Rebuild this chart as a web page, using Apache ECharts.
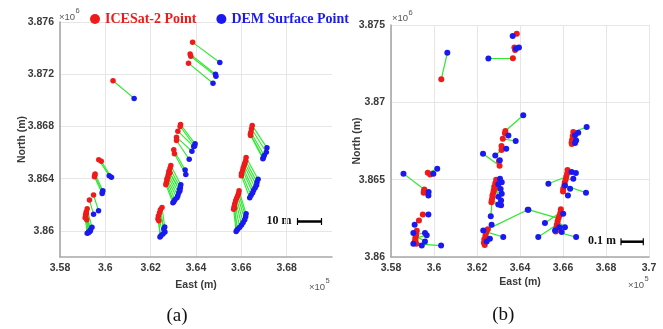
<!DOCTYPE html>
<html><head><meta charset="utf-8">
<script src="https://cdn.jsdelivr.net/npm/echarts@6/dist/echarts.min.js"></script>
<style>html,body{margin:0;padding:0;background:#fff}#c{width:663px;height:329px}</style>
</head><body><div id="c"></div>
<script>
// ICESat-2 point positions (East x1e5 m, North x1e6 m)
const icesatEast = [3.6034,3.6385,3.6374,3.6377,3.6367,3.6332,3.6330,3.6320,3.6314,3.6314,3.6302,3.6305,
  3.6289,3.6285,3.6280,3.6278,3.6276,3.6272,3.6272,3.6269,3.6267,3.6285,
  3.6250,3.6243,3.6239,3.6234,3.6232,3.6236,
  3.5971,3.5982,3.5955,3.5952,3.5953,3.5948,3.5930,3.5920,3.5916,3.5913,3.5911,3.5918,3.5914,3.5916,
  3.6648,3.6645,3.6642,3.6641,3.6640,3.6621,3.6619,3.6615,3.6612,3.6608,3.6606,3.6601,3.6600,
  3.6590,3.6588,3.6584,3.6579,3.6575,3.6571,3.6568,3.6566,3.6570];
const icesatNorth = [3.8715,3.87444,3.87354,3.87338,3.87285,3.86815,3.86800,3.86764,3.86718,3.86692,3.86621,3.86590,
  3.86500,3.86477,3.86454,3.86431,3.86415,3.86400,3.86385,3.86369,3.86354,3.86446,
  3.86180,3.86162,3.86138,3.86115,3.86092,3.86077,
  3.86544,3.86533,3.86436,3.86415,3.86425,3.86275,3.86236,3.86169,3.86146,3.86123,3.86100,3.86085,3.86110,3.86135,
  3.86808,3.86782,3.86756,3.86731,3.86740,3.86562,3.86538,3.86519,3.86500,3.86481,3.86462,3.86442,3.86423,
  3.86308,3.86288,3.86269,3.86250,3.86231,3.86208,3.86185,3.86165,3.86175];
// DEM surface points, panel (a)
const demEastA = [3.6127,3.6505,3.6486,3.6488,3.6475,3.6396,3.6394,3.6390,3.6382,3.6370,3.6352,3.6355,
  3.6333,3.6331,3.6329,3.6324,3.6320,3.6316,3.6307,3.6302,3.6298,3.6327,
  3.6262,3.6258,3.6263,3.6254,3.6245,3.6241,
  3.6017,3.6027,3.5989,3.5986,3.5987,3.5970,3.5948,3.5941,3.5935,3.5927,3.5920,3.5931,3.5925,3.5933,
  3.6713,3.6710,3.6701,3.6695,3.6697,3.6674,3.6669,3.6667,3.6661,3.6654,3.6650,3.6643,3.6637,
  3.6621,3.6619,3.6615,3.6608,3.6601,3.6593,3.6584,3.6577,3.6580];
const demNorthA = [3.87015,3.8729,3.8720,3.87185,3.87131,3.86667,3.86650,3.86646,3.86610,3.86548,3.86467,3.86431,
  3.86354,3.86331,3.86308,3.86292,3.86269,3.86254,3.86238,3.86223,3.86215,3.86315,
  3.86030,3.86015,3.85992,3.85977,3.85962,3.85954,
  3.86423,3.86410,3.86308,3.86287,3.86297,3.86154,3.86128,3.86027,3.86008,3.85992,3.85981,3.85996,3.85985,3.86000,
  3.86636,3.86602,3.86577,3.86552,3.86560,3.86396,3.86373,3.86350,3.86331,3.86312,3.86292,3.86273,3.86254,
  3.86131,3.86108,3.86085,3.86065,3.86046,3.86027,3.86012,3.85996,3.86005];
// DEM surface points, panel (b)
const demEastB = [3.6062,3.6366,3.6381,3.6395,3.6253,3.6415,3.6346,3.6380,3.6336,3.6285,3.6306,3.6228,
  3.6307,3.6315,3.6299,3.6315,3.6310,3.6312,3.6264,3.6312,3.6299,3.6300,
  3.6436,3.6322,3.6260,3.6229,3.6245,3.6268,
  3.6015,3.5997,3.5858,3.5975,3.5974,3.5974,3.5910,3.5904,3.5958,3.5966,3.5904,3.6033,3.5943,3.5958,
  3.6710,3.6671,3.6656,3.6661,3.6656,3.6660,3.6640,3.6532,3.6648,3.6633,3.6707,3.6609,3.6623,
  3.6601,3.6516,3.6583,3.6439,3.6609,3.6485,3.6594,3.6661,3.6563];
const demNorthB = [3.8732,3.87429,3.87347,3.87354,3.87283,3.86916,3.86786,3.86750,3.86700,3.86657,3.86625,3.86668,
  3.86506,3.86484,3.86470,3.86409,3.86440,3.86366,3.86263,3.86334,3.86339,3.86390,
  3.86306,3.86129,3.86118,3.86172,3.86100,3.86209,
  3.86571,3.86539,3.86539,3.86420,3.86398,3.86274,3.86209,3.86155,3.86155,3.86140,3.86086,3.86074,3.86075,3.86100,
  3.86840,3.86804,3.86787,3.86754,3.86737,3.86543,3.86549,3.86474,3.86506,3.86442,3.86416,3.86463,3.86398,
  3.86280,3.86220,3.86193,3.86306,3.86193,3.86129,3.86161,3.86129,3.86172];
// tick values
const eastTicks = [3.58,3.6,3.62,3.64,3.66,3.68,3.7];
const northTicksA = [3.86,3.864,3.868,3.872,3.876];
const northTicksB = [3.86,3.865,3.87,3.875];

const chart = echarts.init(document.getElementById('c'), null, {renderer:'canvas'});
const pts = (xs, ys) => xs.map((x,i)=>[x, ys[i]]);
const segs = (x1,y1,x2,y2) => x1.map((x,i)=>({coords:[[x,y1[i]],[x2[i],y2[i]]]}));
const fmt = v => String(parseFloat(Number(v).toFixed(4)));
const RED = '#f01a1a', BLUE = '#1a1af0', GREEN = '#2ee82e';
const labelStyle = {color:'#3a3a3a', fontSize:10.5, fontWeight:'bold', fontFamily:'Liberation Sans, Arial'};
const nameStyle = {color:'#3a3a3a', fontSize:10.5, fontWeight:'bold', fontFamily:'Liberation Sans, Arial'};
const axisLine = {show:true, onZero:false, lineStyle:{color:'#a8a8a8', width:1.6}};
const splitLine = {show:true, lineStyle:{color:'#e6e6e6', width:1}};

function xAxis(grid, gap, showMax){
  return {gridIndex:grid, type:'value', min:eastTicks[0], max:eastTicks[eastTicks.length-1], interval:0.02,
    axisLine, axisTick:{show:false}, splitLine:Object.assign({}, splitLine, {showMaxLine:showMax}),
    axisLabel:Object.assign({}, labelStyle, {margin:6, formatter:fmt, showMaxLabel:showMax}),
    name:'East (m)', nameLocation:'middle', nameGap:gap, nameMoveOverlap:false, nameTextStyle:nameStyle};
}

const option = {
  animation:false,
  backgroundColor:'#fff',
  legend:{left:85, top:7, itemWidth:10, itemHeight:10, itemGap:20, icon:'circle',
    data:[{name:'ICESat-2 Point', textStyle:{color:RED}}, {name:'DEM Surface Point', textStyle:{color:BLUE}}],
    textStyle:{fontFamily:'Liberation Serif, Times New Roman', fontWeight:'bold', fontSize:14, padding:[0,0,0,0]}},
  grid:[{left:60, top:22, width:272, height:235}, {left:391, top:25, width:258, height:232}],
  xAxis:[xAxis(0, 23, false), xAxis(1, 20, true)],
  yAxis:[
    {gridIndex:0, type:'value', min:3.858, max:northTicksA[northTicksA.length-1],
      axisLine, axisTick:{show:false, customValues:northTicksA}, splitLine,
      axisLabel:Object.assign({}, labelStyle, {margin:6, formatter:fmt, customValues:northTicksA}),
      name:'North (m)', nameLocation:'middle', nameGap:32, nameMoveOverlap:false, nameTextStyle:nameStyle},
    {gridIndex:1, type:'value', min:northTicksB[0], max:northTicksB[northTicksB.length-1], interval:0.005,
      axisLine, axisTick:{show:false}, splitLine,
      axisLabel:Object.assign({}, labelStyle, {margin:6, formatter:fmt}),
      name:'North (m)', nameLocation:'middle', nameGap:28, nameMoveOverlap:false, nameTextStyle:nameStyle}
  ],
  series:[
    {type:'lines', coordinateSystem:'cartesian2d', xAxisIndex:0, yAxisIndex:0, silent:true,
      lineStyle:{color:GREEN, width:1.1, opacity:1}, data:segs(icesatEast, icesatNorth, demEastA, demNorthA)},
    {type:'scatter', name:'ICESat-2 Point', xAxisIndex:0, yAxisIndex:0, symbolSize:5.5, itemStyle:{color:RED, opacity:1}, data:pts(icesatEast, icesatNorth)},
    {type:'scatter', name:'DEM Surface Point', xAxisIndex:0, yAxisIndex:0, symbolSize:5.5, itemStyle:{color:BLUE, opacity:1}, data:pts(demEastA, demNorthA)},
    {type:'lines', coordinateSystem:'cartesian2d', xAxisIndex:1, yAxisIndex:1, silent:true,
      lineStyle:{color:GREEN, width:1.2, opacity:1}, data:segs(icesatEast, icesatNorth, demEastB, demNorthB)},
    {type:'scatter', name:'ICESat-2 Point', xAxisIndex:1, yAxisIndex:1, symbolSize:6, itemStyle:{color:RED, opacity:1}, data:pts(icesatEast, icesatNorth)},
    {type:'scatter', name:'DEM Surface Point', xAxisIndex:1, yAxisIndex:1, symbolSize:6, itemStyle:{color:BLUE, opacity:1}, data:pts(demEastB, demNorthB)}
  ],
  graphic:[
    {type:'text', left:59, top:12, style:{text:'×10', fontSize:9.5, fill:'#555', fontFamily:'Liberation Sans, Arial'}},
    {type:'text', left:75.5, top:7, style:{text:'6', fontSize:7.5, fill:'#555', fontFamily:'Liberation Sans, Arial'}},
    {type:'text', left:392, top:13, style:{text:'×10', fontSize:9.5, fill:'#555', fontFamily:'Liberation Sans, Arial'}},
    {type:'text', left:408.5, top:8.5, style:{text:'6', fontSize:7.5, fill:'#555', fontFamily:'Liberation Sans, Arial'}},
    {type:'text', left:309, top:282, style:{text:'×10', fontSize:9.5, fill:'#555', fontFamily:'Liberation Sans, Arial'}},
    {type:'text', left:325.5, top:276.5, style:{text:'5', fontSize:7.5, fill:'#555', fontFamily:'Liberation Sans, Arial'}},
    {type:'text', left:628, top:280, style:{text:'×10', fontSize:9.5, fill:'#555', fontFamily:'Liberation Sans, Arial'}},
    {type:'text', left:644.5, top:274.5, style:{text:'5', fontSize:7.5, fill:'#555', fontFamily:'Liberation Sans, Arial'}},
    // scale bars
    {type:'text', left:266.5, top:214.5, style:{text:'10 m', fontSize:12, fontWeight:'bold', fill:'#111', fontFamily:'Liberation Serif, Times New Roman'}},
    {type:'line', shape:{x1:297.5, y1:221.5, x2:321.5, y2:221.5}, style:{stroke:'#000', lineWidth:2.5}},
    {type:'line', shape:{x1:297.5, y1:218, x2:297.5, y2:225}, style:{stroke:'#000', lineWidth:1.2}},
    {type:'line', shape:{x1:321.5, y1:218, x2:321.5, y2:225}, style:{stroke:'#000', lineWidth:1.2}},
    {type:'text', left:588, top:235, style:{text:'0.1 m', fontSize:12, fontWeight:'bold', fill:'#111', fontFamily:'Liberation Serif, Times New Roman'}},
    {type:'line', shape:{x1:621, y1:241.7, x2:643.3, y2:241.7}, style:{stroke:'#000', lineWidth:2.5}},
    {type:'line', shape:{x1:621, y1:238.2, x2:621, y2:245.2}, style:{stroke:'#000', lineWidth:1.2}},
    {type:'line', shape:{x1:643.3, y1:238.2, x2:643.3, y2:245.2}, style:{stroke:'#000', lineWidth:1.2}},
    // captions
    {type:'text', x:177, y:316.5, style:{text:'(a)', fontSize:19, fill:'#111', fontFamily:'Liberation Serif, Times New Roman', align:'center', verticalAlign:'middle'}},
    {type:'text', x:503.3, y:315.5, style:{text:'(b)', fontSize:19, fill:'#111', fontFamily:'Liberation Serif, Times New Roman', align:'center', verticalAlign:'middle'}}
  ]
};
chart.setOption(option);
</script>
</body></html>
